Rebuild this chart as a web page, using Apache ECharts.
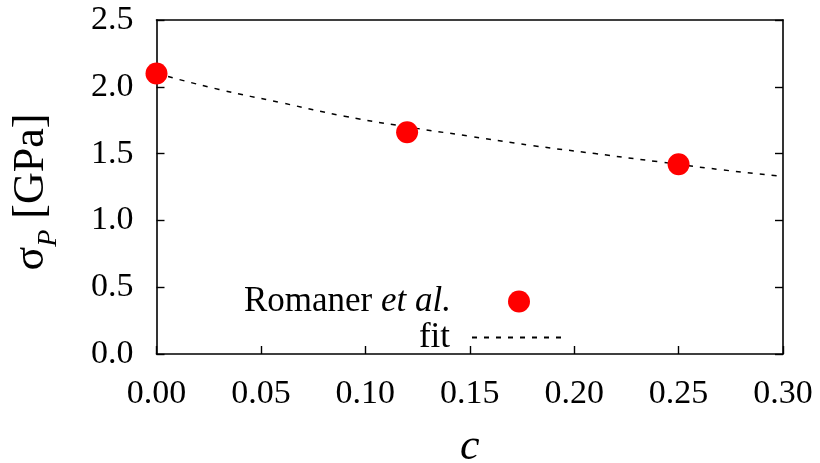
<!DOCTYPE html>
<html>
<head>
<meta charset="utf-8">
<script src="https://cdn.jsdelivr.net/npm/echarts@6/dist/echarts.min.js"></script>
<style>
  html, body { margin: 0; padding: 0; background: #fff; }
  #chart { width: 820px; height: 463px; }
</style>
</head>
<body>
<div id="chart"></div>
<script>
// Peierls stress vs. concentration: computed points and fitted curve
const dataC = [0.0, 0.12, 0.25];
const dataSigma = [2.1, 1.66, 1.42];

const fitC = [0.0, 0.03, 0.06, 0.09, 0.12, 0.15, 0.18, 0.21, 0.24, 0.27, 0.30];
const fitSigma = [2.10, 1.98, 1.88, 1.78, 1.70, 1.63, 1.56, 1.50, 1.44, 1.38, 1.33];

const xTicks = { min: 0, max: 0.3, interval: 0.05 };
const yTicks = { min: 0, max: 2.5, interval: 0.5 };

const serif = "'Liberation Serif', 'Times New Roman', serif";
const ink = '#000';

const chart = echarts.init(document.getElementById('chart'), null, { renderer: 'canvas' });

const axisLine = { show: true, onZero: false, lineStyle: { color: ink, width: 1.6 } };
const innerTick = { show: true, inside: true, length: 8, lineStyle: { color: ink, width: 1.4 } };

chart.setOption({
  animation: false,
  backgroundColor: '#fff',
  grid: {
    left: 156.5, right: 37, top: 20, bottom: 109,
    containLabel: false,
    outerBoundsMode: 'none'
  },
  xAxis: [
    {
      type: 'value',
      position: 'bottom',
      min: xTicks.min, max: xTicks.max, interval: xTicks.interval,
      axisLine: axisLine,
      axisTick: innerTick,
      axisLabel: {
        margin: 23, color: ink, fontFamily: serif, fontSize: 34,
        formatter: v => v.toFixed(2)
      },
      splitLine: { show: false },
      name: 'c',
      nameLocation: 'middle',
      nameGap: 71,
      nameTextStyle: { fontFamily: serif, fontSize: 44, fontStyle: 'italic', color: ink, lineHeight: 44 }
    },
    {
      type: 'value',
      position: 'top',
      min: xTicks.min, max: xTicks.max, interval: xTicks.interval,
      axisLine: axisLine,
      axisTick: { show: false },
      axisLabel: { show: false },
      splitLine: { show: false }
    }
  ],
  yAxis: [
    {
      type: 'value',
      position: 'left',
      min: yTicks.min, max: yTicks.max, interval: yTicks.interval,
      axisLine: axisLine,
      axisTick: innerTick,
      axisLabel: {
        margin: 23, color: ink, fontFamily: serif, fontSize: 34,
        formatter: v => v.toFixed(1)
      },
      splitLine: { show: false },
      name: '{s|σ}{p|P}{b| [GPa]}',
      nameLocation: 'middle',
      nameRotate: 90,
      nameGap: 103,
      nameTextStyle: {
        color: ink,
        rich: {
          s: { fontFamily: serif, fontSize: 44, lineHeight: 44, verticalAlign: 'top', color: ink },
          p: { fontFamily: serif, fontSize: 28, lineHeight: 28, fontStyle: 'italic', verticalAlign: 'top', padding: [25, 0, 0, 0], color: ink },
          b: { fontFamily: serif, fontSize: 44, lineHeight: 44, verticalAlign: 'top', padding: [0, 10, 0, 0], color: ink }
        }
      }
    },
    {
      type: 'value',
      position: 'right',
      min: yTicks.min, max: yTicks.max, interval: yTicks.interval,
      axisLine: axisLine,
      axisTick: innerTick,
      axisLabel: { show: false },
      splitLine: { show: false }
    }
  ],
  legend: [
    {
      data: ['Romaner et al.'],
      orient: 'vertical',
      align: 'right',
      right: 290,
      top: 284,
      padding: 0,
      itemWidth: 22,
      itemHeight: 22,
      selectedMode: false,
      formatter: () => '{r|Romaner }{i|et al.}',
      textStyle: {
        color: ink, fontFamily: serif, fontSize: 35,
        padding: [0, 52, 0, 0],
        rich: {
          r: { fontFamily: serif, fontSize: 35, color: ink },
          i: { fontFamily: serif, fontSize: 35, fontStyle: 'italic', color: ink }
        }
      }
    },
    {
      data: ['fit'],
      orient: 'vertical',
      align: 'right',
      right: 254,
      top: 320,
      padding: 0,
      itemWidth: 93,
      itemHeight: 14,
      selectedMode: false,
      itemStyle: { opacity: 0 },
      textStyle: {
        color: ink, fontFamily: serif, fontSize: 35,
        padding: [0, 17, 0, 0]
      }
    }
  ],
  series: [
    {
      name: 'fit',
      type: 'line',
      data: fitC.map((c, i) => [c, fitSigma[i]]),
      smooth: true,
      symbol: 'none',
      showSymbol: false,
      lineStyle: { color: ink, width: 1.5, type: [5, 7] },
      itemStyle: { color: ink },
      z: 2
    },
    {
      name: 'Romaner et al.',
      type: 'scatter',
      data: dataC.map((c, i) => [c, dataSigma[i]]),
      symbol: 'circle',
      symbolSize: 22,
      itemStyle: { color: '#ff0000', opacity: 1 },
      z: 3
    }
  ]
});
</script>
</body>
</html>
